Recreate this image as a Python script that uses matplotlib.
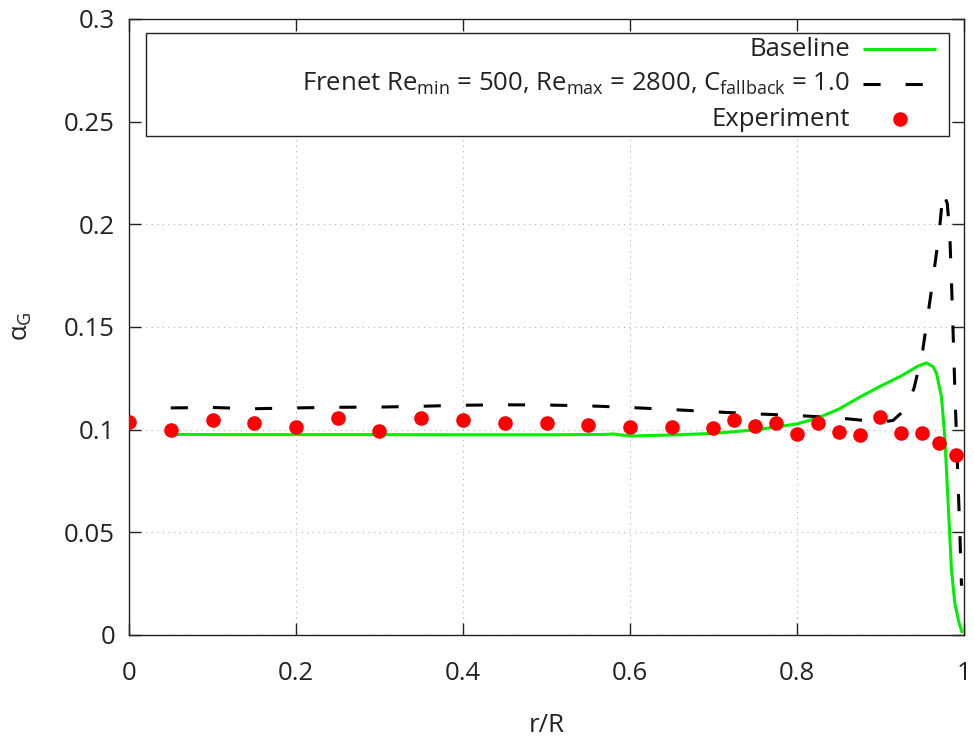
import matplotlib
matplotlib.use("Agg")
import matplotlib.pyplot as plt
from matplotlib.patches import Rectangle
from matplotlib.lines import Line2D

plt.rcParams['font.family'] = ['Open Sans', 'DejaVu Sans']
plt.rcParams['mathtext.fontset'] = 'custom'
plt.rcParams['mathtext.rm'] = 'Open Sans'
plt.rcParams['mathtext.it'] = 'Open Sans'
plt.rcParams['mathtext.bf'] = 'Open Sans:bold'

FS = 18.5

# ---------------- data ----------------
exp_x = [0.0, 0.05, 0.1, 0.15, 0.2, 0.25, 0.3, 0.35, 0.4, 0.45, 0.5, 0.55, 0.6,
         0.65, 0.7, 0.725, 0.75, 0.775, 0.8, 0.825, 0.85, 0.875, 0.9, 0.925,
         0.95, 0.97, 0.99]
exp_y = [0.1037, 0.0999, 0.1047, 0.1033, 0.1013, 0.1057, 0.0994, 0.1057, 0.1047,
         0.1033, 0.1033, 0.1023, 0.1013, 0.1013, 0.1008, 0.1047, 0.1018, 0.1033,
         0.0979, 0.1033, 0.0989, 0.0974, 0.1062, 0.0984, 0.0984, 0.0935, 0.0877]

base_x = [0.05, 0.10, 0.20, 0.30, 0.40, 0.50, 0.57, 0.58, 0.60, 0.62, 0.65, 0.70,
          0.75, 0.80, 0.825, 0.85, 0.875, 0.90, 0.925, 0.945, 0.955, 0.963, 0.967,
          0.973, 0.977, 0.979, 0.981, 0.985, 0.989, 0.994, 0.998]
base_y = [0.0977, 0.0976, 0.0976, 0.0976, 0.0975, 0.0975, 0.0977, 0.0979, 0.0969,
          0.0971, 0.0974, 0.0982, 0.0999, 0.1028, 0.1057, 0.1100, 0.1158, 0.1212,
          0.1262, 0.1310, 0.1325, 0.1307, 0.1275, 0.1161, 0.0966, 0.0804, 0.0642,
          0.0317, 0.0155, 0.0060, 0.0010]

fren_x = [0.05, 0.10, 0.15, 0.20, 0.25, 0.30, 0.35, 0.40, 0.45, 0.50, 0.55, 0.60,
          0.65, 0.70, 0.75, 0.80, 0.85, 0.88, 0.90, 0.915, 0.93, 0.94, 0.95, 0.96,
          0.97, 0.975, 0.980, 0.983, 0.986, 0.989, 0.992, 0.995, 0.997]
fren_y = [0.1106, 0.1108, 0.1102, 0.1106, 0.1109, 0.1110, 0.1114, 0.1119, 0.1121,
          0.1120, 0.1116, 0.1108, 0.1098, 0.1087, 0.1077, 0.1069, 0.1057, 0.1045,
          0.1036, 0.1045, 0.1100, 0.1200, 0.1370, 0.1650, 0.1950, 0.2160, 0.2100,
          0.1950, 0.1600, 0.1200, 0.0850, 0.0500, 0.0240]

x_ticks = [0, 0.2, 0.4, 0.6, 0.8, 1]
x_tick_labels = ['0', '0.2', '0.4', '0.6', '0.8', '1']
y_ticks = [0, 0.05, 0.1, 0.15, 0.2, 0.25, 0.3]
y_tick_labels = ['0', '0.05', '0.1', '0.15', '0.2', '0.25', '0.3']

labels = ['Baseline',
          r'Frenet Re$_{\mathrm{min}}$ = 500, Re$_{\mathrm{max}}$ = 2800, C$_{\mathrm{fallback}}$ = 1.0',
          'Experiment']

# ---------------- styles ----------------
base_style = dict(color='#00ee00', lw=2.2, solid_capstyle='butt')
fren_style = dict(color='black', lw=2.2, linestyle=(0, (5.6, 8.2)), dash_capstyle='butt')
exp_style = dict(color='red', marker='o', ms=10.5, mec='none', linestyle='none')

fig = plt.figure(figsize=(9.74, 7.42), dpi=100)
ax = fig.add_axes([129/974, 1-635/742, (964-129)/974, (635-19)/742])

ax.plot(base_x, base_y, zorder=3, **base_style)
ax.plot(fren_x, fren_y, zorder=3, **fren_style)
ax.plot(exp_x, exp_y, zorder=4, **exp_style)

ax.set_xlim(0, 1)
ax.set_ylim(0, 0.3)
ax.set_xticks(x_ticks)
ax.set_xticklabels(x_tick_labels)
ax.set_yticks(y_ticks)
ax.set_yticklabels(y_tick_labels)
ax.tick_params(axis='both', direction='in', length=8.5, width=1, colors='#222222',
               labelsize=FS, labelcolor='#222222', top=True, right=True)
ax.tick_params(axis='x', pad=19)
ax.tick_params(axis='y', pad=10)
for s in ax.spines.values():
    s.set_linewidth(1.0)
    s.set_color('#222222')
ax.grid(True, color='#b0b0b0', lw=0.8, linestyle=(0, (1, 4)))
ax.set_axisbelow(True)

ax.set_xlabel('r/R', fontsize=FS, va='center', color='#222222')
ax.xaxis.set_label_coords(0.5, (635-725)/616)
ax.set_ylabel(r'α$_{\mathrm{G}}$', fontsize=FS, ha='center', va='center', color='#222222')
ax.yaxis.set_label_coords((21-129)/835, 0.5016)

# ---------------- legend (gnuplot style key) ----------------
t = ax.transAxes
x0, x1 = (146-129)/835, (949-129)/835
y0, y1 = (635-136)/616, (635-33)/616
ax.add_patch(Rectangle((x0, y0), x1-x0, y1-y0, transform=t, fill=True, fc='white',
                       ec='#222222', lw=1.0, zorder=5))
rows = [(635-49)/616, (635-84)/616, (635-119)/616]
tx = (850-129)/835
sx0, sx1 = (863-129)/835, (936-129)/835
mx = (900-129)/835
for lab, ry in zip(labels, rows):
    ax.text(tx, ry, lab, transform=t, ha='right', va='center', fontsize=FS,
            color='#222222', zorder=6)
ax.add_line(Line2D([sx0, sx1], [rows[0]]*2, transform=t, zorder=6, **base_style))
ax.add_line(Line2D([sx0, sx1], [rows[1]]*2, transform=t, zorder=6, **fren_style))
ax.add_line(Line2D([mx], [rows[2]], transform=t, zorder=6, **exp_style))

fig.savefig('out.png', dpi=100)
